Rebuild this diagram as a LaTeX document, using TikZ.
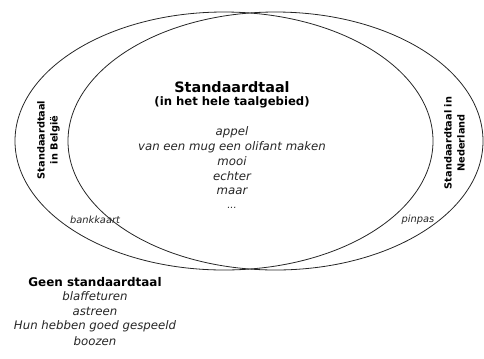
\documentclass[tikz,border=0pt]{standalone}
\usepackage{fontspec}
\setmainfont{DejaVu Sans}
\begin{document}
\begin{tikzpicture}[x=1bp,y=-1bp,
  ring/.style={draw=black!85,line width=0.8bp},
  title/.style={font=\bfseries\fontsize{14.4}{16}\selectfont,inner sep=0pt},
  sub/.style={font=\bfseries\fontsize{11.7}{13}\selectfont,inner sep=0pt},
  word/.style={font=\itshape\fontsize{11.8}{13}\selectfont,inner sep=0pt,text=black!85},
  small/.style={font=\itshape\fontsize{9.9}{11}\selectfont,inner sep=0pt,text=black!85},
  side/.style={font=\bfseries\fontsize{9.8}{13}\selectfont,inner sep=0pt,align=center,rotate=90}]
\useasboundingbox (0,0) rectangle (484,358);
\draw[ring] (224,141) ellipse [x radius=209bp, y radius=129bp];
\draw[ring] (275.5,141) ellipse [x radius=207.5bp, y radius=129bp];
\node[title] (t) at (232,87) {Standaardtaal};
\node[sub] (s) at (232,102) {(in het hele taalgebied)};
\node[word] (w1) at (232,132) {appel};
\node[word] (w2) at (232,147) {van een mug een olifant maken};
\node[word] (w3) at (232,161.5) {mooi};
\node[word] (w4) at (232,176) {echter};
\node[word] (w5) at (232,191) {maar};
\node[small] (w6) at (232,208) {...};
\node[side] (be) at (48.5,140) {Standaardtaal\\in België};
\node[side] (nl) at (454.5,143) {Standaardtaal in\\Nederland};
\node[small] (bk) at (95,220) {bankkaart};
\node[small] (pp) at (418,220) {pinpas};
\node[sub,font=\bfseries\fontsize{12}{13}\selectfont] (g) at (95,282) {Geen standaardtaal};
\node[word] (g1) at (95,296.5) {blaffeturen};
\node[word] (g2) at (95,311) {astreen};
\node[word] (g3) at (95,326) {Hun hebben goed gespeeld};
\node[word] (g4) at (95,341) {boozen};
\end{tikzpicture}
\end{document}
